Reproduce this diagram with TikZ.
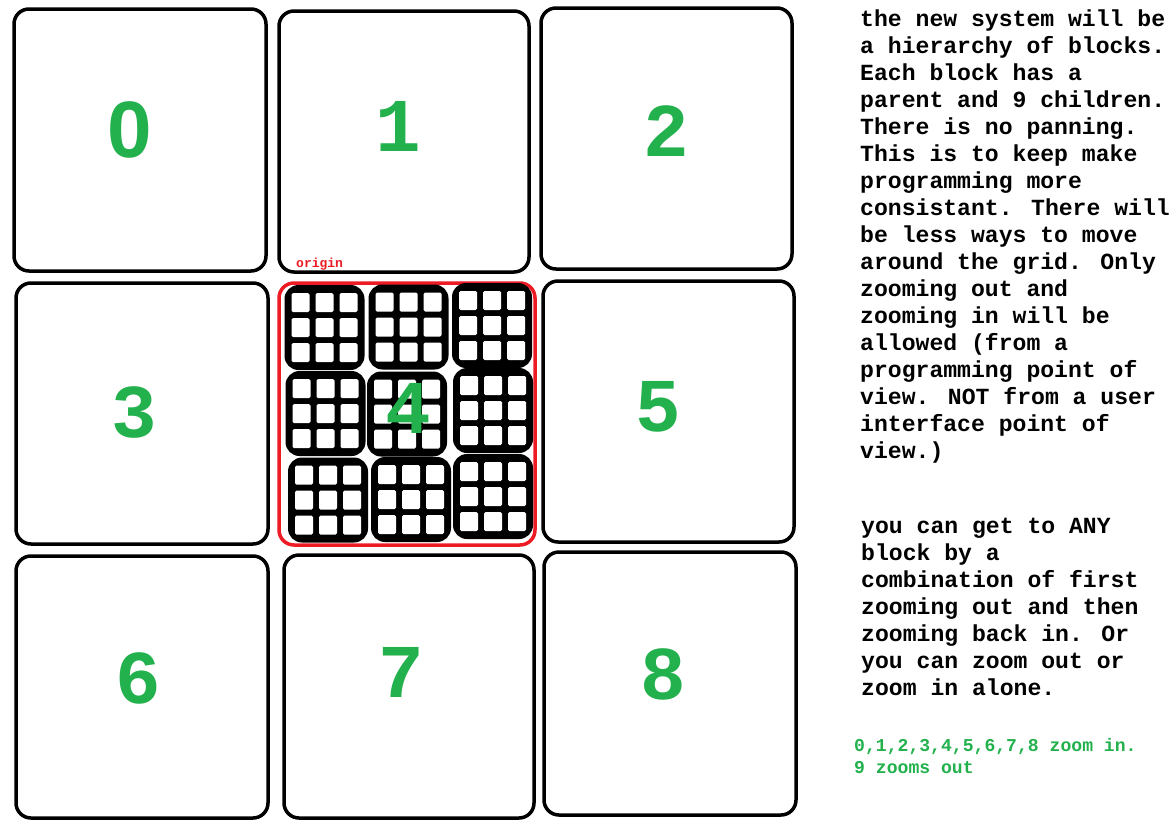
\documentclass[tikz,border=0pt]{standalone}
\usepackage{fontspec}
\newfontfamily\monofont{Liberation Mono}
\newfontfamily\sansfont{Liberation Sans}
\definecolor{paintgreen}{HTML}{22B14C}
\definecolor{paintred}{HTML}{ED1C24}
\begin{document}
\begin{tikzpicture}[
    x=1pt, y=-1pt,
    blockbox/.style={rectangle, draw=black, line width=3.5pt, rounded corners=15pt, fill=white, inner sep=0pt},
    kidbox/.style={rectangle, fill=black, rounded corners=14pt, minimum width=80pt, minimum height=85pt, inner sep=0pt},
    cellbox/.style={rectangle, fill=white, rounded corners=1.5pt, minimum width=18pt, minimum height=19pt, inner sep=0pt},
    digit/.style={text=paintgreen, font=\monofont\bfseries\fontsize{76}{76}\selectfont, inner sep=0pt},
    note/.style={anchor=base west, align=left, inner sep=0pt, font=\monofont\bfseries\fontsize{23.1}{27}\selectfont},
]
    \useasboundingbox (0,0) rectangle (1173,830);

    %Blocks
    \foreach \n/\x/\y/\w/\h in {0/140/140/252/262, 1/404/141.5/250/261, 2/666.5/138.5/251/261,
                                3/142/413.5/252/261, 5/668.5/411.5/251/261,
                                6/142/687/252/262, 7/409/686.5/250/263, 8/670/683.5/252/263}
        \node[blockbox, minimum width=\w pt, minimum height=\h pt] (b\n) at (\x,\y) {};
    \node[blockbox, draw=paintred, minimum width=256pt, minimum height=262pt] (b4) at (407,414) {};

    %Children of block 4
    \foreach \k/\x/\y in {1/324.5/327.5, 2/408.5/327, 3/492/325.5,
                          4/325.5/413.5, 5/407/414, 6/493/410.5,
                          7/328/500, 8/411/499.5, 9/493/496.5} {
        \node[kidbox] (kid\k) at (\x,\y) {};
        \foreach \i/\dx in {1/-24,2/0,3/24}
            \foreach \j/\dy in {1/-25,2/0,3/25}
                \node[cellbox] (kid\k-\i\j) at ([shift={(\dx,\dy)}]kid\k.center) {};
    }

    %Digits
    \node[digit, font=\sansfont\bfseries\fontsize{80}{80}\selectfont] (d0) at (130,130) {0};
    \foreach \n/\x/\y in {1/398/126, 2/666/131, 3/134/413, 4/408/408,
                          5/658/407, 6/138/678, 7/401/672, 8/663/674}
        \node[digit] (d\n) at (\x,\y) {\n};

    \node[anchor=base west, inner sep=0pt, text=paintred, font=\monofont\bfseries\fontsize{13}{13}\selectfont] (origin) at (296,267) {origin};

    %Notes (base = last line)
    \node[note] (about) at (860,458) {the new system will be\\a hierarchy of blocks.\\Each block has a\\parent and 9 children.\\There is no panning.\\This is to keep make\\programming more\\consistant. There will\\be less ways to move\\around the grid. Only\\zooming out and\\zooming in will be\\allowed (from a\\programming point of\\view. NOT from a user\\interface point of\\view.)};
    \node[note] (howto) at (861,695) {you can get to ANY\\block by a\\combination of first\\zooming out and then\\zooming back in. Or\\you can zoom out or\\zoom in alone.};
    \node[note, text=paintgreen, font=\monofont\bfseries\fontsize{18.1}{22}\selectfont] (keys) at (854,773) {0,1,2,3,4,5,6,7,8 zoom in.\\9 zooms out};
\end{tikzpicture}
\end{document}
